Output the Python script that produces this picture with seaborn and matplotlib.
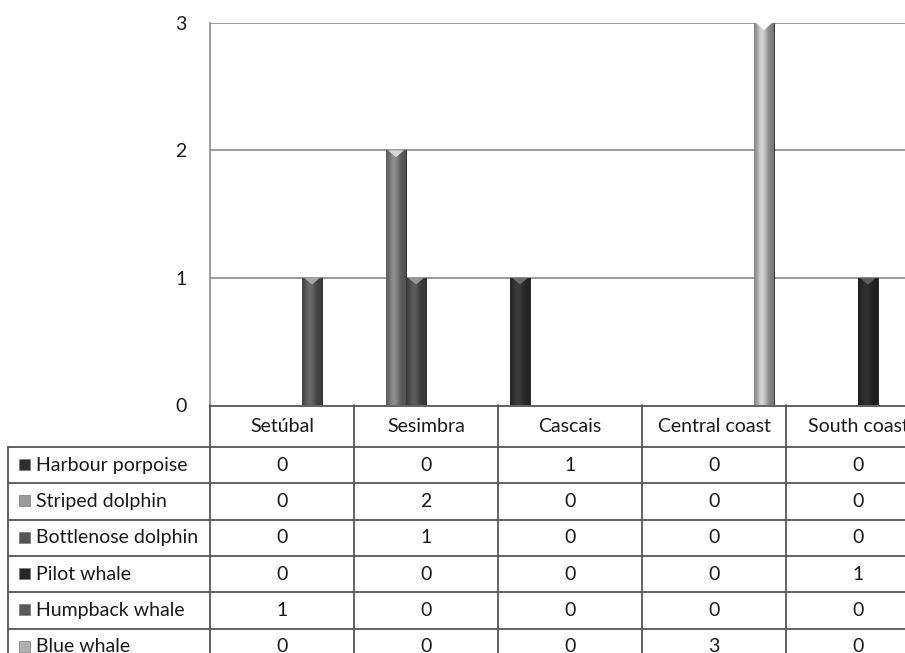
import numpy as np
import pandas as pd
import matplotlib
matplotlib.use('Agg')
import matplotlib.pyplot as plt
import seaborn as sns
from matplotlib.lines import Line2D
from matplotlib.patches import Rectangle, Polygon
from matplotlib.transforms import blended_transform_factory

sites = ['Setúbal', 'Sesimbra', 'Cascais', 'Central coast', 'South coast']
species = ['Harbour porpoise', 'Striped dolphin', 'Bottlenose dolphin',
           'Pilot whale', 'Humpback whale', 'Blue whale']
harbour_porpoise = [0, 0, 1, 0, 0]
striped_dolphin = [0, 2, 0, 0, 0]
bottlenose_dolphin = [0, 1, 0, 0, 0]
pilot_whale = [0, 0, 0, 0, 1]
humpback_whale = [1, 0, 0, 0, 0]
blue_whale = [0, 0, 0, 3, 0]
colors = ['#2b2b2b', '#6e6e6e', '#454545', '#232323', '#505050', '#a6a6a6']
key_colors = ['#2e2e2e', '#9a9a9a', '#555555', '#262626', '#5a5a5a', '#b0b0b0']

counts = [harbour_porpoise, striped_dolphin, bottlenose_dolphin,
          pilot_whale, humpback_whale, blue_whale]
rows = []
for sp, vals in zip(species, counts):
    for site, v in zip(sites, vals):
        rows.append({'site': site, 'species': sp, 'count': v})
df = pd.DataFrame(rows)

W, H = 905, 653
sns.set_style('white')
plt.rcParams['font.family'] = ['Lato', 'DejaVu Sans']
FS = 14
TXT = '#1a1a1a'
GRID = '#8a8a8a'
LINE = '#555555'


def fx(px):
    return px / W


def fy(py):
    return 1 - py / H


fig = plt.figure(figsize=(W / 100, H / 100), dpi=100)
ax = fig.add_axes([fx(210), fy(405), (930 - 210) / W, (405 - 23) / H])

sns.barplot(data=df, x='site', y='count', hue='species', hue_order=species,
            order=sites, palette=colors, width=0.833, dodge=True,
            saturation=1, legend=False, ax=ax, edgecolor='#1e1e1e', linewidth=0.6)

ax.set_xlim(-0.5, 4.5)
ax.set_ylim(0, 3)
ax.set_yticks([0, 1, 2, 3])
ax.set_yticklabels(['0', '1', '2', '3'], fontsize=FS, color=TXT)
ax.set_xticks([])
ax.set_xlabel('')
ax.set_ylabel('')
ax.tick_params(axis='y', length=0, pad=17)
for s in ['top', 'right', 'bottom']:
    ax.spines[s].set_visible(False)
ax.spines['left'].set_color(GRID)
ax.spines['left'].set_linewidth(1.2)
for v in [1, 2, 3]:
    ax.axhline(v, color=GRID, lw=1.2, zorder=0)

# cylinder-like shading on each bar
t = np.linspace(0, 1, 64)
shade = 0.7 + 0.55 * np.exp(-((t - 0.4) / 0.28) ** 2)
for p in list(ax.patches):
    h = p.get_height()
    if h <= 0:
        continue
    x0, w = p.get_x(), p.get_width()
    base = np.array(matplotlib.colors.to_rgb(p.get_facecolor()))
    img = np.clip(base[None, None, :] * shade[None, :, None] + 0.02, 0, 1)
    im = ax.imshow(img, extent=[x0, x0 + w, 0, h], aspect='auto',
                   zorder=p.get_zorder() + 0.1, interpolation='bilinear')
    im.set_clip_path(p)
    cap = np.clip(base * 1.6 + 0.15, 0, 1)
    ax.add_patch(Polygon([[x0 + w * 0.1, h], [x0 + w * 0.9, h], [x0 + w / 2, h - 0.055]],
                         closed=True, facecolor=cap, edgecolor='none',
                         zorder=p.get_zorder() + 0.2))
ax.set_xlim(-0.5, 4.5)
ax.set_ylim(0, 3)

# data table
tr = blended_transform_factory(ax.transData, fig.transFigure)
row_edges = [447 + 36.3 * i for i in range(7)]


def hline(x0, x1, py):
    fig.add_artist(Line2D([fx(x0), fx(x1)], [fy(py), fy(py)], color=LINE, lw=1.3,
                          transform=fig.transFigure))


hline(210, 905, 405.5)
for py in row_edges:
    hline(8, 905, py)
fig.add_artist(Line2D([fx(8), fx(8)], [fy(447), fy(660)], color=LINE, lw=1.3,
                      transform=fig.transFigure))
for i in range(len(sites) + 1):
    fig.add_artist(Line2D([i - 0.5, i - 0.5], [fy(405), fy(660)], color=LINE, lw=1.3,
                          transform=tr))

for i, site in enumerate(sites):
    fig.text(i, fy(426), site, transform=tr, ha='center', va='center',
             fontsize=FS, color=TXT)

for r, (sp, vals) in enumerate(zip(species, counts)):
    yc = (row_edges[r] + row_edges[r + 1]) / 2
    fig.patches.append(Rectangle((fx(19), fy(yc + 5)), 11 / W, 11 / H,
                                 facecolor=key_colors[r], edgecolor='#777777', lw=0.5,
                                 transform=fig.transFigure, figure=fig))
    fig.text(fx(36), fy(yc), sp, ha='left', va='center', fontsize=FS, color=TXT)
    for i, v in enumerate(vals):
        fig.text(i, fy(yc), str(v), transform=tr, ha='center', va='center',
                 fontsize=FS, color=TXT)

fig.savefig('out.png', dpi=100)
